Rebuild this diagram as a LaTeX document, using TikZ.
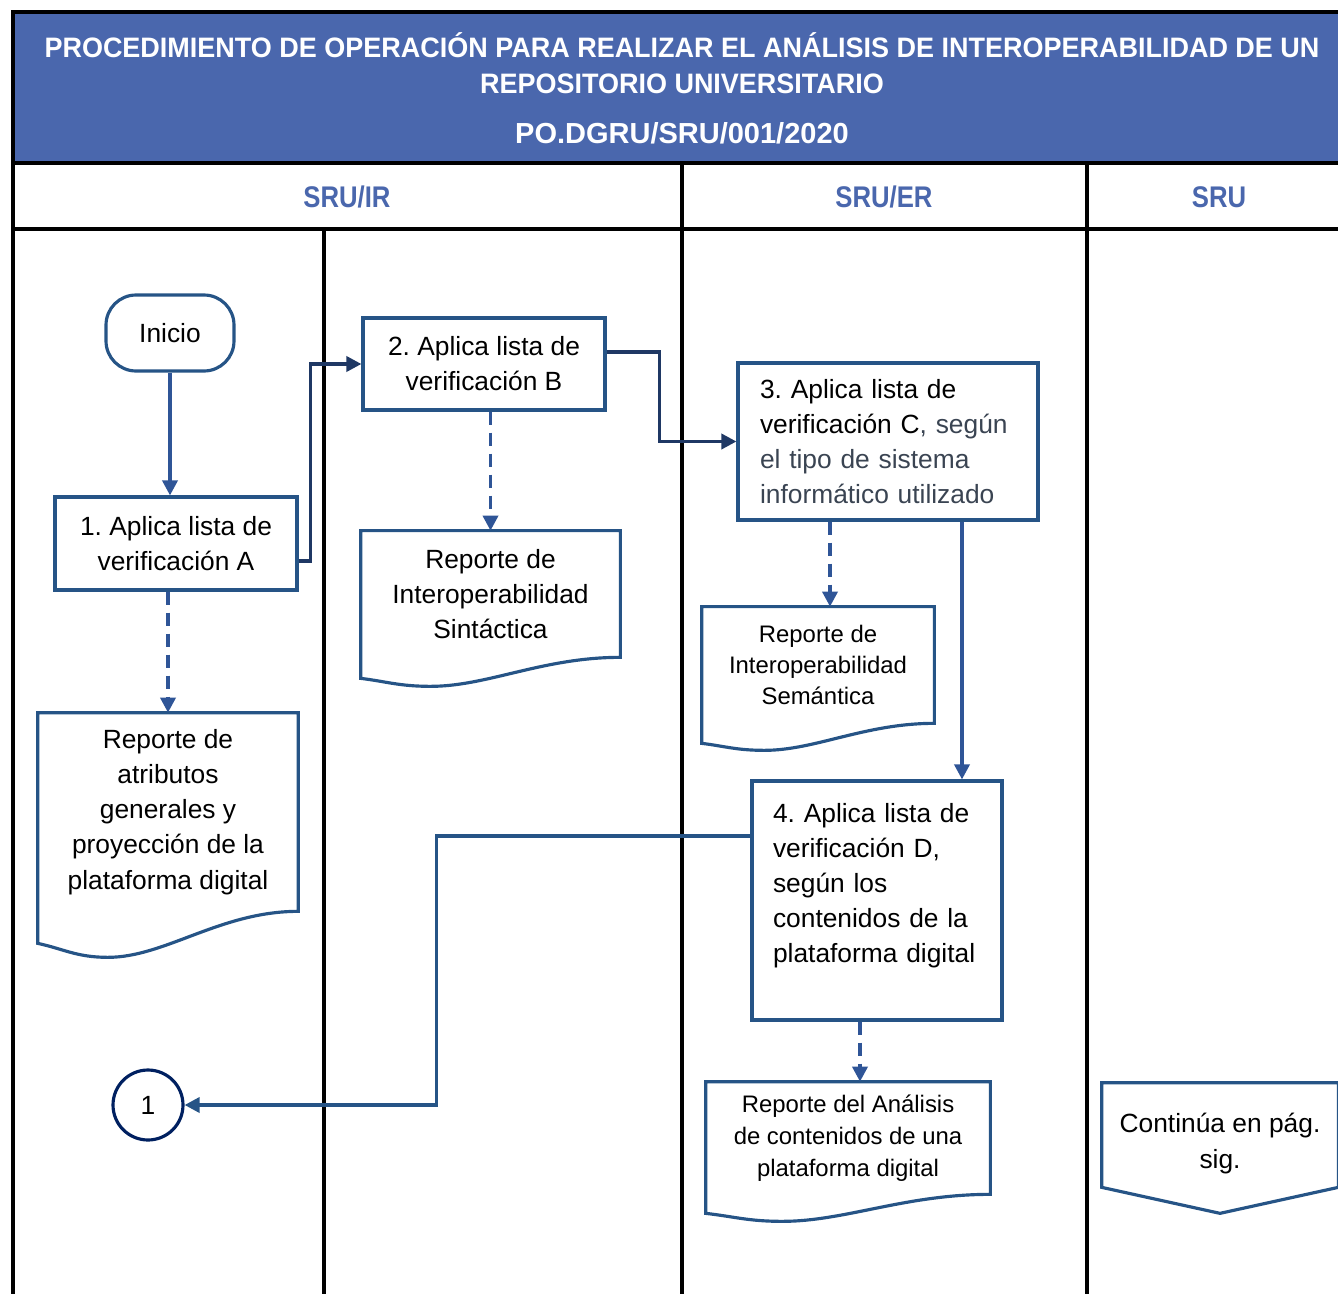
\documentclass[tikz,border=0pt]{standalone}
\usepackage{fontspec}
\setmainfont{Liberation Sans}
\newfontfamily\headfont{Liberation Sans}[FakeStretch=0.86]
\newfontfamily\titlefont{Liberation Sans}[FakeStretch=0.96]
\usetikzlibrary{shapes, arrows.meta, positioning, calc}
\frenchspacing

\definecolor{headblue}{RGB}{74,103,173}
\definecolor{boxblue}{RGB}{38,84,134}
\definecolor{flowblue}{RGB}{47,85,151}
\definecolor{darknavy}{RGB}{31,56,100}
\definecolor{circnavy}{RGB}{0,32,96}
\definecolor{softgray}{RGB}{58,68,82}

% document outline: node, width, left drop, dip (all in px)
\newcommand{\docpath}[4]{%
  \draw[docline] ($(#1.south west)+(0,#3)$) -- (#1.north west) -- (#1.north east) -- (#1.south east)
    .. controls +(-0.3*#2,0) and +(0.22*#2,0) .. ($(#1.south west)+(0.27*#2,#3+#4)$)
    .. controls +(-0.12*#2,0) and +(0.1*#2,0.4*#4) .. ($(#1.south west)+(0,#3)$) -- cycle;}

\begin{document}
\begin{tikzpicture}[
    x=0.02cm, y=-0.02cm,
    lane/.style={draw=black, line width=2.4pt},
    box/.style={draw=boxblue, line width=1.8pt, rectangle, align=center, fill=white, font=\fontsize{15}{20}\selectfont},
    docbox/.style={rectangle, inner sep=0pt, align=center, font=\fontsize{15}{20}\selectfont},
    docline/.style={draw=boxblue, line width=1.8pt, line join=miter},
    flow/.style={line width=2pt, -{Triangle[length=0.3cm, width=0.3cm]}},
    report/.style={flow, flowblue, dash pattern=on 0.26cm off 0.16cm}
]
    \useasboundingbox (0,0) rectangle (1338,1294);

    % Header
    \fill[headblue] (13,12) rectangle (1338,163);
    \node[text=white, align=center, font=\titlefont\bfseries\fontsize{16}{20.4}\selectfont] (title) at (682,63)
        {PROCEDIMIENTO DE OPERACIÓN PARA REALIZAR EL ANÁLISIS DE INTEROPERABILIDAD DE UN\\REPOSITORIO UNIVERSITARIO};
    \node[text=white, font=\bfseries\fontsize{16.5}{20}\selectfont] (code) at (682,133) {PO.DGRU/SRU/001/2020};

    % Lanes
    \draw[lane] (1338,12) -- (13,12) -- (13,1294);
    \draw[lane] (13,163) -- (1338,163);
    \draw[lane] (13,229) -- (1338,229);
    \foreach \x in {682,1087} {
        \draw[lane] (\x,163) -- (\x,1294);
    }
    \draw[lane] (324,229) -- (324,1294);
    \foreach \i/\x/\label in {ir/347/{SRU/IR}, er/884/{SRU/ER}, sru/1219/{SRU}} {
        \node[text=headblue, font=\headfont\bfseries\fontsize{17}{20}\selectfont] (lane\i) at (\x,197) {\label};
    }

    % Steps
    \node[box, rounded corners=0.6cm, minimum width=2.56cm, minimum height=1.52cm] (inicio) at (170,333) {Inicio};
    \node[box, minimum width=4.84cm, minimum height=1.86cm] (step1) at (176,543.5) {1. Aplica lista de\\verificación A};
    \node[box, minimum width=4.84cm, minimum height=1.84cm] (step2) at (484,364) {2. Aplica lista de\\verificación B};
    \node[box, align=left, text width=5.12cm, inner xsep=0.44cm, minimum height=3.14cm] (step3) at (888,441.5)
        {3. Aplica lista de\\verificación C{\color{softgray}, según}\\{\color{softgray}el tipo de sistema}\\{\color{softgray}informático utilizado}};
    \node[box, align=left, text width=4.16cm, inner xsep=0.42cm, minimum height=4.78cm] (step4) at (877,900.5)
        {4. Aplica lista de\\verificación D,\\según los\\contenidos de la\\plataforma digital\\\mbox{}};

    % Reports
    \node[docbox, minimum width=5.2cm, minimum height=3.96cm] (repA) at (168,812)
        {Reporte de\\atributos\\generales y\\proyección de la\\plataforma digital};
    \node[docbox, minimum width=5.18cm, minimum height=2.52cm] (repB) at (490.5,594)
        {Reporte de\\Interoperabilidad\\Sintáctica};
    \node[docbox, minimum width=4.64cm, minimum height=2.32cm, font=\fontsize{13.6}{17.9}\selectfont] (repC) at (818,665)
        {Reporte de\\Interoperabilidad\\Semántica};
    \node[docbox, minimum width=5.68cm, minimum height=2.24cm, font=\fontsize{13.6}{18.1}\selectfont] (repD) at (848,1138)
        {Reporte del Análisis\\de contenidos de una\\plataforma digital};
    \docpath{repA}{260}{32}{14}
    \docpath{repB}{259}{21}{8}
    \docpath{repC}{232}{20}{7}
    \docpath{repD}{284}{19}{8}

    % Connector and off-page
    \node[circle, draw=circnavy, line width=1.8pt, minimum size=1.4cm, inner sep=0pt, font=\fontsize{15}{18}\selectfont] (conn1) at (148,1105) {1};
    \node[docbox, minimum width=4.72cm, minimum height=2.42cm] (cont) at (1220,1143.5) {Continúa en pág.\\sig.};
    \draw[docline] (cont.north west) -- (cont.north east) -- ($(cont.south east)+(0,-17)$) -- ($(cont.south)+(0,9)$)
        -- ($(cont.south west)+(0,-17)$) -- cycle;

    % Flow
    \draw[flow, flowblue] (inicio.south) -- (inicio.south |- step1.north);
    \draw[flow, darknavy] ([yshift=-0.35cm]step1.east) -- ++(12,0) |- (step2.west);
    \draw[flow, darknavy] ([yshift=0.24cm]step2.east) -- ++(53,0) |- (step3.west);
    \draw[flow, flowblue] ([xshift=1.48cm]step3.south) -- ([xshift=1.48cm]step3.south |- step4.north);
    \draw[flow, boxblue] ([yshift=1.29cm]step4.west) -- ++(-314,0) |- (conn1.east);

    \draw[report] (repA.north |- step1.south) -- (repA.north);
    \draw[report] (repB.north |- step2.south) -- (repB.north);
    \draw[report] ([xshift=-1.16cm]step3.south) -- ([xshift=-1.16cm]step3.south |- repC.north);
    \draw[report] ([xshift=-0.34cm]step4.south) -- ([xshift=-0.34cm]step4.south |- repD.north);

\end{tikzpicture}
\end{document}
